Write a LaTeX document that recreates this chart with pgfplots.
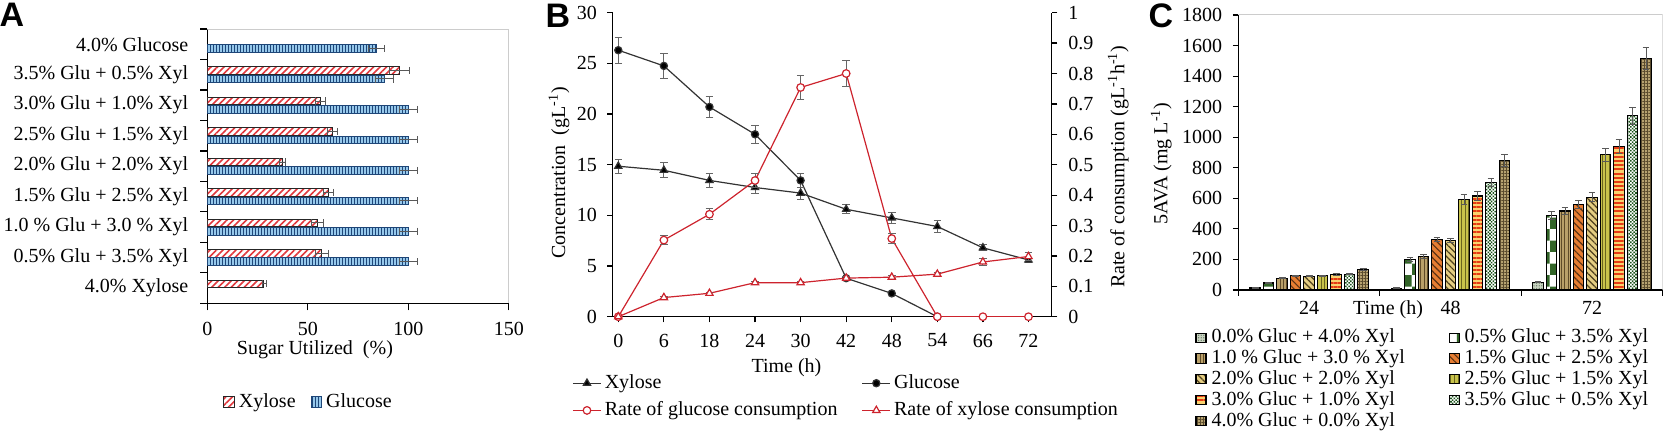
\documentclass[border=0pt]{standalone}
\usepackage{fontspec}
\setmainfont{Liberation Serif}
\newfontfamily\headfont{Liberation Sans}
\usepackage{pgfplots}
\pgfplotsset{compat=1.18}
\usetikzlibrary{patterns,patterns.meta}

\definecolor{xylred}{RGB}{225,55,60}
\definecolor{glublue}{RGB}{150,200,235}
\definecolor{glulines}{RGB}{30,70,120}
\definecolor{bred}{RGB}{205,35,45}
\definecolor{cAf}{RGB}{200,210,192}\definecolor{cAp}{RGB}{105,125,105}
\definecolor{cBp}{RGB}{50,100,40}
\definecolor{cCf}{RGB}{185,160,105}\definecolor{cCp}{RGB}{95,75,40}
\definecolor{cDf}{RGB}{230,125,50}\definecolor{cDp}{RGB}{90,50,20}
\definecolor{cEf}{RGB}{228,205,130}\definecolor{cEp}{RGB}{80,65,30}
\definecolor{cFf}{RGB}{200,195,75}\definecolor{cFp}{RGB}{105,100,30}
\definecolor{cGf}{RGB}{250,210,110}\definecolor{cGp}{RGB}{230,60,20}
\definecolor{cHp}{RGB}{30,85,30}
\definecolor{cIf}{RGB}{182,162,112}\definecolor{cIp}{RGB}{90,75,45}

\pgfplotsset{
  /pgf/number format/assume math mode=true,
  every axis/.append style={font=\rmfamily\fontsize{10}{12}\selectfont},
  tick label style={font=\rmfamily\fontsize{10}{12}\selectfont},
  label style={font=\rmfamily\fontsize{10}{12}\selectfont},
  xticklabel style={yshift=-2.2pt},
}

\begin{document}
\begin{tikzpicture}
\path[use as bounding box] (0,0) rectangle (834pt,217pt);

\node[font=\headfont\bfseries\fontsize{17}{17}\selectfont] at (6pt,209.5pt) {A};
\node[font=\headfont\bfseries\fontsize{17}{17}\selectfont] at (279pt,209pt) {B};
\node[font=\headfont\bfseries\fontsize{17}{17}\selectfont] at (580.5pt,209pt) {C};

% ---------------- Panel A ----------------
\begin{axis}[
  at={(103.65pt,65.35pt)}, anchor=south west,
  scale only axis, width=150.75pt, height=137.15pt,
  xbar, bar width=3.8pt,
  xmin=0, xmax=150, ymin=-0.5, ymax=8.5,
  axis lines*=left, axis line style={black, line width=0.6pt},
  tick align=outside, major tick length=3.5pt,
  tick style={black, line width=0.6pt},
  xtick={0,50,100,150},
  ytick={-0.5,0.5,...,8.5}, yticklabels={},
  extra y ticks={0,1,2,3,4,5,6,7,8},
  extra y tick labels={4.0\% Xylose, 0.5\% Glu + 3.5\% Xyl, 1.0 \% Glu + 3.0 \% Xyl, 1.5\% Glu + 2.5\% Xyl, 2.0\% Glu + 2.0\% Xyl, 2.5\% Glu + 1.5\% Xyl, 3.0\% Glu + 1.0\% Xyl, 3.5\% Glu + 0.5\% Xyl, 4.0\% Glucose},
  extra y tick style={major tick length=0pt, tick label style={xshift=-6pt}},
  xlabel={Sugar Utilized\ \ (\%)},
  x label style={at={(axis description cs:0.357,-0.17)}, anchor=center},
  legend style={at={(axis description cs:0.052,-0.36)}, anchor=west, draw=none, fill=none, inner sep=0pt,
    legend columns=-1, nodes={inner sep=1pt},
    /tikz/every odd column/.append style={column sep=1pt},
    /tikz/every even column/.append style={column sep=6.5pt}},
  legend image code/.code={\draw[#1] (0pt,-2.6pt) rectangle (5.3pt,2.6pt);},
]
\addplot[draw=black!85, line width=0.5pt, fill=white,
  postaction={pattern={Lines[angle=45,distance=2.3pt,line width=0.8pt]}, pattern color=xylred},
  bar shift=2.1pt,
  error bars/.cd, x dir=both, x explicit,
  error bar style={black!65, line width=0.45pt},
  error mark options={rotate=90, black!65, line width=0.45pt, mark size=1.8pt}]
coordinates {(28.2,0) +- (1.0,0) (57.0,1) +- (3.4,0) (54.9,2) +- (3.1,0) (60.4,3) +- (2.6,0)
  (37.5,4) +- (1.5,0) (62.2,5) +- (2.5,0) (56.4,6) +- (2.6,0) (95.5,7) +- (5.0,0)};
\addlegendentry{Xylose}
\addplot[draw=glulines, line width=0.5pt, fill=glublue,
  postaction={pattern={Lines[angle=90,distance=1.5pt,line width=0.45pt]}, pattern color=glulines},
  bar shift=-2.1pt,
  error bars/.cd, x dir=both, x explicit,
  error bar style={black!65, line width=0.45pt},
  error mark options={rotate=90, black!65, line width=0.45pt, mark size=1.8pt}]
coordinates {(100,1) +- (4.6,0) (100,2) +- (4.6,0) (100,3) +- (4.6,0) (100,4) +- (4.6,0)
  (100,5) +- (4.6,0) (100,6) +- (4.6,0) (88.0,7) +- (4.5,0) (84.2,8) +- (3.8,0)};
\addlegendentry{Glucose}
\draw[black!20, line width=0.5pt] (rel axis cs:0,1) -- (rel axis cs:1,1) -- (rel axis cs:1,0);
\end{axis}

% ---------------- Panel B (left axis) ----------------
\begin{axis}[
  at={(306.3pt,58.65pt)}, anchor=south west,
  scale only axis, width=219.55pt, height=152pt,
  xmin=-0.125, xmax=9.51, ymin=0, ymax=30,
  axis x line*=bottom, axis y line*=left,
  axis line style={black, line width=0.6pt},
  tick align=outside, major tick length=2.8pt, tick style={black, line width=0.6pt},
  xtick={0,...,9}, xticklabels={0,6,18,24,30,42,48,54,66,72},
  ytick={0,5,10,15,20,25,30},
  yticklabel style={xshift=-1.5pt},
  ylabel={Concentration\ \ (gL\textsuperscript{-1})},
  y label style={at={(axis description cs:-0.122,0.473)}, anchor=center},
  xlabel={Time (h)},
  x label style={at={(axis description cs:0.396,-0.169)}, anchor=center},
]
\addplot[color=black!80, line width=0.6pt, mark=triangle*, mark size=2.1pt, mark options={fill=black},
  error bars/.cd, y dir=both, y explicit,
  error bar style={black!60, line width=0.45pt},
  error mark options={rotate=90, black!60, line width=0.45pt, mark size=1.9pt}]
coordinates {(0,14.85) +- (0,0.7) (1,14.45) +- (0,0.75) (2,13.45) +- (0,0.7) (3,12.75) +- (0,0.55)
  (4,12.2) +- (0,0.6) (5,10.6) +- (0,0.45) (6,9.75) +- (0,0.55) (7,8.9) +- (0,0.55)
  (8,6.8) +- (0,0.3) (9,5.6) +- (0,0.2)};
\addplot[color=black!80, line width=0.6pt, mark=*, mark size=1.8pt, mark options={fill=black},
  error bars/.cd, y dir=both, y explicit,
  error bar style={black!60, line width=0.45pt},
  error mark options={rotate=90, black!60, line width=0.45pt, mark size=1.9pt}]
coordinates {(0,26.3) +- (0,1.3) (1,24.75) +- (0,1.25) (2,20.7) +- (0,1.0) (3,18.0) +- (0,0.9)
  (4,13.45) +- (0,0.65) (5,3.8) +- (0,0.2) (6,2.3) +- (0,0) (7,0) +- (0,0)};
\end{axis}

% ---------------- Panel B (right axis) ----------------
\begin{axis}[
  at={(306.3pt,58.65pt)}, anchor=south west,
  scale only axis, width=219.55pt, height=152pt,
  xmin=-0.125, xmax=9.51, ymin=0, ymax=1,
  axis x line=none, axis y line*=right,
  axis line style={black, line width=0.6pt},
  tick align=outside, major tick length=2.8pt, tick style={black, line width=0.6pt},
  ytick={0,0.1,0.2,0.3,0.4,0.5,0.6,0.7,0.8,0.9,1},
  yticklabels={0,0.1,0.2,0.3,0.4,0.5,0.6,0.7,0.8,0.9,1},
  yticklabel style={xshift=2pt},
  ylabel={Rate of consumption (gL\textsuperscript{-1}h\textsuperscript{-1})},
  y label style={at={(axis description cs:1.1517,0.4934)}, anchor=center},
  legend style={at={(axis description cs:-0.0925,-0.1826)}, anchor=north west, draw=none, fill=none, inner sep=0pt,
    legend columns=2, nodes={inner sep=0.8pt, text height=7pt, text depth=2pt}, row sep=3pt,
    /tikz/every odd column/.append style={column sep=0.8pt},
    /tikz/every even column/.append style={column sep=11.3pt}},
  legend cell align=left,
  legend image code/.code={\draw[mark repeat=2,mark phase=2,#1] plot coordinates {(0pt,0pt) (7pt,0pt) (14pt,0pt)};},
]
\addlegendimage{color=black!80, line width=0.6pt, mark=triangle*, mark size=2.1pt, mark options={fill=black}}
\addlegendentry{Xylose}
\addlegendimage{color=black!80, line width=0.6pt, mark=*, mark size=1.8pt, mark options={fill=black}}
\addlegendentry{Glucose}
\addplot[color=bred, line width=0.6pt, mark=*, mark size=1.9pt, mark options={fill=white},
  error bars/.cd, y dir=both, y explicit,
  error bar style={black!60, line width=0.45pt},
  error mark options={rotate=90, black!60, line width=0.45pt, mark size=1.9pt}]
coordinates {(0,0) +- (0,0) (1,0.252) +- (0,0.015) (2,0.337) +- (0,0.018) (3,0.448) +- (0,0.022)
  (4,0.754) +- (0,0.038) (5,0.80) +- (0,0.042) (6,0.257) +- (0,0.016) (7,0) +- (0,0)
  (8,0) +- (0,0) (9,0) +- (0,0)};
\addlegendentry{Rate of glucose consumption}
\addplot[color=bred, line width=0.6pt, mark=triangle*, mark size=2.1pt, mark options={fill=white},
  error bars/.cd, y dir=both, y explicit,
  error bar style={black!60, line width=0.45pt},
  error mark options={rotate=90, black!60, line width=0.45pt, mark size=1.9pt}]
coordinates {(0,0) +- (0,0) (1,0.063) +- (0,0.004) (2,0.077) +- (0,0.004) (3,0.112) +- (0,0.005)
  (4,0.112) +- (0,0.005) (5,0.127) +- (0,0.005) (6,0.130) +- (0,0.005) (7,0.140) +- (0,0.005)
  (8,0.180) +- (0,0.01) (9,0.198) +- (0,0.013)};
\addlegendentry{Rate of xylose consumption}
\end{axis}

% ---------------- Panel C ----------------
\begin{axis}[
  at={(619.2pt,72pt)}, anchor=south west,
  scale only axis, width=212.15pt, height=137.5pt,
  ybar=1.55pt, bar width=5.2pt,
  xmin=-0.5, xmax=2.5, ymin=0, ymax=1800,
  axis lines*=left, axis line style={black, line width=0.6pt},
  tick align=outside, major tick length=2.8pt, tick style={black, line width=0.6pt},
  ytick={0,200,...,1800},
  yticklabel style={xshift=-1.8pt},
  /pgf/number format/1000 sep={},
  xtick={-0.5,0.5,1.5,2.5}, xticklabels={},
  extra x ticks={0,1,2}, extra x tick labels={24,48,72},
  extra x tick style={major tick length=0pt},
  ylabel={5AVA (mg L\textsuperscript{-1})},
  y label style={at={(axis description cs:-0.182,0.46)}, anchor=center},
  xlabel={Time (h)},
  x label style={at={(axis description cs:0.3526,-0.0727)}, anchor=center},
  legend style={at={(axis description cs:-0.1023,-0.1375)}, anchor=north west, draw=none, fill=none, inner sep=0pt,
    legend columns=2, nodes={inner sep=0pt, text height=7.3pt, text depth=2.2pt}, row sep=0.9pt,
    /tikz/every odd column/.append style={column sep=2.5pt},
    /tikz/every even column/.append style={column sep=21.8pt}},
  legend cell align=left,
  legend image code/.code={\draw[#1] (0pt,-2.3pt) rectangle (5pt,2.3pt);},
  every axis plot/.append style={draw=black, line width=0.55pt,
    error bars/y dir=both, error bars/y explicit,
    error bars/error bar style={black!65, line width=0.45pt},
    error bars/error mark options={rotate=90, black!65, line width=0.45pt, mark size=1.7pt}},
]
\addplot[fill=cAf, postaction={pattern={Dots[distance=1.3pt,radius=0.35pt]}, pattern color=cAp}]
coordinates {(0,13) +- (0,2) (1,12) +- (0,2) (2,50) +- (0,3)};
\addlegendentry{0.0\% Gluc + 4.0\% Xyl}
\addplot[fill=white, postaction={pattern=checkerboard, pattern color=cBp}]
coordinates {(0,46) +- (0,3) (1,200) +- (0,13) (2,487) +- (0,27)};
\addlegendentry{0.5\% Gluc + 3.5\% Xyl}
\addplot[fill=cCf, postaction={pattern={Lines[angle=90,distance=1.6pt,line width=0.45pt]}, pattern color=cCp}]
coordinates {(0,77) +- (0,3) (1,222) +- (0,13) (2,517) +- (0,25)};
\addlegendentry{1.0 \% Gluc + 3.0 \% Xyl}
\addplot[fill=cDf, postaction={pattern={Lines[angle=-45,distance=2.4pt,line width=0.6pt]}, pattern color=cDp}]
coordinates {(0,92) +- (0,3) (1,332) +- (0,13) (2,561) +- (0,25)};
\addlegendentry{1.5\% Gluc + 2.5\% Xyl}
\addplot[fill=cEf, postaction={pattern={Lines[angle=-45,distance=2.2pt,line width=0.6pt]}, pattern color=cEp}]
coordinates {(0,90) +- (0,3) (1,323) +- (0,15) (2,607) +- (0,30)};
\addlegendentry{2.0\% Gluc + 2.0\% Xyl}
\addplot[fill=cFf, postaction={pattern={Lines[angle=90,distance=1.8pt,line width=0.45pt]}, pattern color=cFp}]
coordinates {(0,94) +- (0,4) (1,593) +- (0,33) (2,884) +- (0,41)};
\addlegendentry{2.5\% Gluc + 1.5\% Xyl}
\addplot[fill=cGf, postaction={pattern={Lines[angle=0,distance=2.1pt,line width=1pt]}, pattern color=cGp}]
coordinates {(0,101) +- (0,5) (1,615) +- (0,28) (2,940) +- (0,48)};
\addlegendentry{3.0\% Gluc + 1.0\% Xyl}
\addplot[fill=white, postaction={pattern={Dots[distance=1.2pt,radius=0.55pt,angle=45]}, pattern color=cHp}]
coordinates {(0,103) +- (0,4) (1,703) +- (0,28) (2,1140) +- (0,56)};
\addlegendentry{3.5\% Gluc + 0.5\% Xyl}
\addplot[fill=cIf, postaction={pattern={Hatch[distance=1.5pt,line width=0.3pt]}, pattern color=cIp}]
coordinates {(0,136) +- (0,5) (1,847) +- (0,41) (2,1516) +- (0,72)};
\addlegendentry{4.0\% Gluc + 0.0\% Xyl}
\draw[black!20, line width=0.5pt] (rel axis cs:0,1) -- (rel axis cs:1,1) -- (rel axis cs:1,0);
\end{axis}
\end{tikzpicture}
\end{document}
